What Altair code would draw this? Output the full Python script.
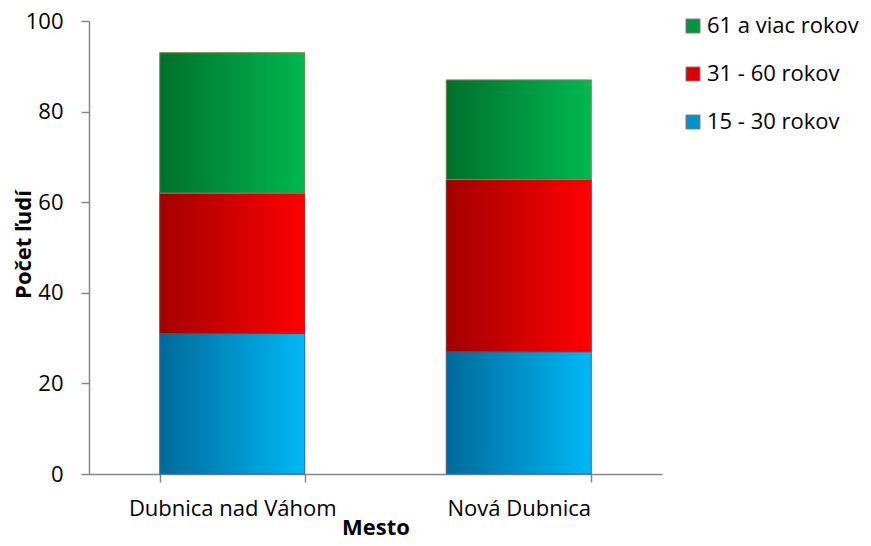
import altair as alt
import pandas as pd

mesta = ["Dubnica nad Váhom", "Nová Dubnica"]
skupiny = ["15 - 30 rokov", "31 - 60 rokov", "61 a viac rokov"]
hodnoty_15_30 = [31, 27]
hodnoty_31_60 = [31, 38]
hodnoty_61 = [31, 22]

rows = []
for i, m in enumerate(mesta):
    for k, (s, vals) in enumerate(zip(skupiny, [hodnoty_15_30, hodnoty_31_60, hodnoty_61])):
        rows.append({"Mesto": m, "Skupina": s, "Poradie": k, "Pocet": vals[i]})
df = pd.DataFrame(rows)

legend_order = ["61 a viac rokov", "31 - 60 rokov", "15 - 30 rokov"]
solid = ["#00943f", "#d80000", "#0090cc"]
grad_cols = {
    "15 - 30 rokov": ("#006a9a", "#00b8f6", "#3d6b98"),
    "31 - 60 rokov": ("#a20000", "#ff0000", "#8c3a3a"),
    "61 a viac rokov": ("#00702c", "#00b850", "#7f8a50"),
}

FONT = "Open Sans"

x_enc = alt.X(
    "Mesto:N",
    sort=mesta,
    title="Mesto",
    scale=alt.Scale(paddingInner=0.494, paddingOuter=0.247),
    axis=alt.Axis(
        labelAngle=0,
        labelLimit=400,
        tickBand="extent",
        tickSize=8,
        tickColor="#868686",
        domainColor="#868686",
        tickWidth=1.5,
        domainWidth=1.5,
        labelFontSize=22,
        labelFont=FONT,
        labelColor="#000000",
        labelPadding=16,
        titleFontSize=22,
        titleFont=FONT,
        titleFontWeight="bold",
        titleColor="#000000",
        titlePadding=-2,
    ),
)
y_axis = alt.Axis(
    values=[0, 20, 40, 60, 80, 100],
    grid=False,
    tickSize=8,
    tickColor="#868686",
    domainColor="#868686",
    tickWidth=1.5,
    domainWidth=1.5,
    labelFontSize=22,
    labelFont=FONT,
    labelColor="#000000",
    labelPadding=18,
    titleFontSize=22,
    titleFont=FONT,
    titleFontWeight="bold",
    titleColor="#000000",
    titleX=-59,
    titleY=223,
    titleAngle=-90,
    titleAlign="center",
    titleBaseline="alphabetic",
)
y_scale = alt.Scale(domain=[0, 100], nice=False)

base = alt.Chart(df).transform_stack(
    stack="Pocet",
    groupby=["Mesto"],
    sort=[alt.SortField("Poradie", order="ascending")],
    as_=["y0", "y1"],
)

legend_layer = base.mark_bar(strokeWidth=1).encode(
    x=x_enc,
    y=alt.Y("y1:Q", scale=y_scale, axis=y_axis, title="Počet ľudí"),
    y2="y0:Q",
    color=alt.Color(
        "Skupina:N",
        scale=alt.Scale(domain=legend_order, range=solid),
        legend=alt.Legend(
            title=None,
            orient="none",
            legendX=593,
            legendY=-6,
            symbolType="square",
            symbolSize=196,
            symbolStrokeWidth=1,
            symbolStrokeColor="#7f7f7f",
            labelFontSize=22,
            labelFont=FONT,
            labelColor="#000000",
            labelOffset=3,
            rowPadding=26,
        ),
    ),
)

layers = [legend_layer]
for s in skupiny:
    c0, c1, sc = grad_cols[s]
    layers.append(
        base.transform_filter(alt.datum.Skupina == s)
        .mark_bar(
            fill=alt.Gradient(
                gradient="linear",
                stops=[alt.GradientStop(color=c0, offset=0), alt.GradientStop(color=c1, offset=1)],
                x1=0, x2=1, y1=0, y2=0,
            ),
            stroke=sc,
            strokeWidth=1,
        )
        .encode(x=alt.X("Mesto:N", sort=mesta), y="y1:Q", y2="y0:Q")
    )

chart = (
    alt.layer(*layers)
    .properties(
        width=573,
        height=453,
        padding={"left": 81, "top": 13, "right": 201, "bottom": 64},
        autosize=alt.AutoSizeParams(type="none"),
    )
    .configure_view(stroke=None)
)

chart.save("out.html", embed_options={"renderer": "svg", "actions": False})
